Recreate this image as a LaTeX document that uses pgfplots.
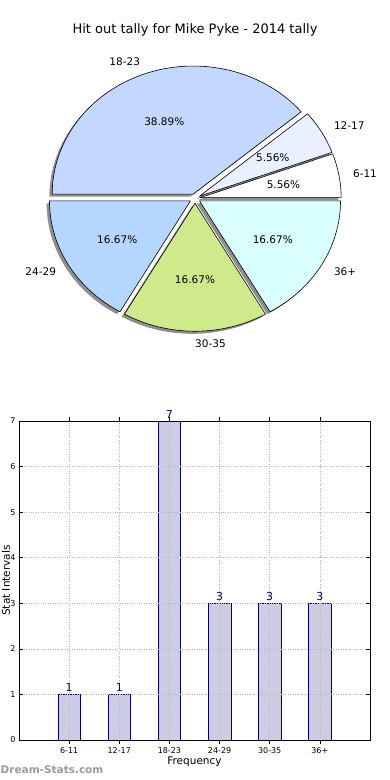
\documentclass[border=0pt]{standalone}
\usepackage{fontspec}
\setmainfont{DejaVu Sans}
\usepackage{pgfplots}
\pgfplotsset{compat=1.18}
\definecolor{cA}{HTML}{FFFFFF}
\definecolor{cB}{HTML}{E9F0FF}
\definecolor{cC}{HTML}{C4D8FF}
\definecolor{cD}{HTML}{B5D6FF}
\definecolor{cE}{HTML}{D0EA8B}
\definecolor{cF}{HTML}{D9FFFF}
\definecolor{barfill}{HTML}{CCCCE3}
\definecolor{navy}{HTML}{000080}
\definecolor{shadowc}{HTML}{8E8E8E}
\definecolor{wm}{HTML}{9A9A9A}
\begin{document}
\begin{tikzpicture}
\useasboundingbox (0,0) rectangle (390pt,-780pt);
\node[font=\fontsize{13}{15}\selectfont] at (195pt,-30pt) {Hit out tally for Mike Pyke - 2014 tally};
% ---------------- pie ----------------
\begin{axis}[
  at={(195pt,-198.5pt)}, anchor=center,
  scale only axis, width=366.6pt, height=332.8pt,
  xmin=-1.3, xmax=1.3, ymin=-1.3, ymax=1.3,
  hide axis, clip=false]
\addplot[draw=none] coordinates {(0,0)};
\pgfplotsextra{
  \def\total{18}
  \def\ex{0.037}
  % shadows
  \gdef\cum{0}
  \foreach \v in {1,1,7,3,3,3} {
    \pgfmathsetmacro\sa{360*\cum/\total}
    \pgfmathsetmacro\newcum{\cum+\v}
    \xdef\cum{\newcum}
    \pgfmathsetmacro\ea{360*\newcum/\total}
    \pgfmathsetmacro\ma{(\sa+\ea)/2}
    \pgfmathsetmacro\cx{\ex*cos(\ma)-0.02}
    \pgfmathsetmacro\cy{\ex*sin(\ma)-0.02}
    \pgfmathsetmacro\px{\cx+cos(\sa)}
    \pgfmathsetmacro\py{\cy+sin(\sa)}
    \fill[shadowc] (axis cs:\cx,\cy) -- (axis cs:\px,\py) arc[start angle=\sa, end angle=\ea, x radius=141pt, y radius=128pt] -- cycle;
  }
  % wedges
  \gdef\cum{0}
  \foreach \v/\col/\lab/\pct in {1/cA/6-11/5.56,1/cB/12-17/5.56,7/cC/18-23/38.89,3/cD/24-29/16.67,3/cE/30-35/16.67,3/cF/36+/16.67} {
    \pgfmathsetmacro\sa{360*\cum/\total}
    \pgfmathsetmacro\newcum{\cum+\v}
    \xdef\cum{\newcum}
    \pgfmathsetmacro\ea{360*\newcum/\total}
    \pgfmathsetmacro\ma{(\sa+\ea)/2}
    \pgfmathsetmacro\cx{\ex*cos(\ma)}
    \pgfmathsetmacro\cy{\ex*sin(\ma)}
    \pgfmathsetmacro\px{\cx+cos(\sa)}
    \pgfmathsetmacro\py{\cy+sin(\sa)}
    \filldraw[fill=\col, draw=black, line width=0.6pt, line join=round] (axis cs:\cx,\cy) -- (axis cs:\px,\py) arc[start angle=\sa, end angle=\ea, x radius=141pt, y radius=128pt] -- cycle;
    \pgfmathsetmacro\cosm{cos(\ma)}
    \pgfmathsetmacro\lx{\cx+1.1*cos(\ma)}
    \pgfmathsetmacro\ly{\cy+1.1*sin(\ma)}
    \pgfmathsetmacro\tx{\cx+0.6*cos(\ma)}
    \pgfmathsetmacro\ty{\cy+0.6*sin(\ma)}
    \ifdim\cosm pt>-0.01pt \def\anc{west}\else\def\anc{east}\fi
    \node[anchor=\anc, inner sep=0pt, font=\fontsize{10.5}{12}\selectfont] at (axis cs:\lx,\ly) {\lab};
    \node[inner sep=0pt, font=\fontsize{10.5}{12}\selectfont] at (axis cs:\tx,\ty) {\pct\%};
  }
}
\end{axis}
% ---------------- bars ----------------
\begin{axis}[
  at={(19pt,-740pt)}, anchor=south west,
  scale only axis, width=351pt, height=319pt,
  xmin=-1, xmax=6, ymin=0, ymax=7,
  xtick={0,...,5}, xticklabels={6-11,12-17,18-23,24-29,30-35,36+},
  ytick={0,...,7},
  tick align=inside, xtick pos=both, ytick pos=both,
  xticklabel pos=bottom, yticklabel pos=left,
  major tick length=4pt,
  tick style={black, line width=0.6pt},
  grid=major, grid style={gray!55, dotted, line width=0.7pt},
  axis line style={line width=0.8pt},
  axis on top,
  ticklabel style={font=\fontsize{8}{9}\selectfont},
  /pgf/number format/assume math mode=true,
  xlabel={Frequency}, ylabel={Stat Intervals},
  label style={font=\fontsize{10.5}{12}\selectfont},
  xlabel style={at={(axis description cs:0.5,0)}, anchor=base, yshift=-24pt},
  ylabel style={at={(axis description cs:-0.026,0.5)}, anchor=base},
  ybar, bar width=0.45,
  nodes near coords,
  nodes near coords style={navy, font=\fontsize{11}{12}\selectfont, inner sep=2.5pt},
  clip=false]
\addplot[fill=barfill, draw=navy, line width=0.6pt] coordinates {(0,1) (1,1) (2,7) (3,3) (4,3) (5,3)};
\end{axis}
\node[anchor=west, inner sep=0pt, text=wm, font=\bfseries\fontsize{10.5}{12}\selectfont] at (0.5pt,-770pt) {Dream-Stats.com};
\end{tikzpicture}
\end{document}
